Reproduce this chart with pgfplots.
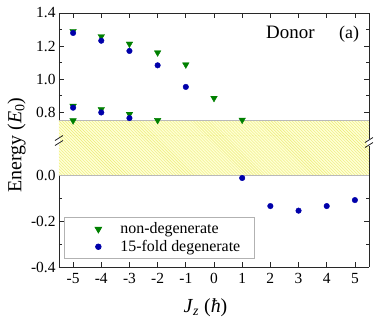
\documentclass[border=0pt]{standalone}
\usepackage{fontspec}
\setmainfont{Liberation Serif}
\usepackage{pgfplots}
\pgfplotsset{compat=1.18}
\usetikzlibrary{patterns}
\definecolor{ndgreen}{RGB}{0,128,0}
\definecolor{fdblue}{RGB}{0,0,170}
\definecolor{bandbg}{RGB}{255,255,212}
\definecolor{bandline}{RGB}{236,236,120}
\definecolor{axgray}{RGB}{40,40,40}
\pgfplotsset{
  common/.style={
    scale only axis,
    width=310bp,
    xmin=-5.5, xmax=5.5,
    xtick={-5,-4,-3,-2,-1,0,1,2,3,4,5},
    tick align=inside,
    major tick length=5bp,
    minor tick length=3bp,
    tick style={line width=0.8bp, axgray},
    tick label style={font=\fontsize{15.5}{18}\selectfont},
    /pgf/number format/assume math mode=true,
    yticklabel style={/pgf/number format/.cd, fixed, fixed zerofill, precision=1},
    clip=false,
  },
  wideleg/.style={legend image code/.code={%
      \path[draw=none, fill=none] (-22bp,-6.5bp) rectangle (20bp,6.5bp);
      \draw[##1] plot coordinates {(0bp,0bp)};}},
}
\begin{document}
\begin{tikzpicture}[x=1bp,y=1bp]
% upper part
\begin{axis}[common,
  at={(0,131bp)}, anchor=south west,
  height=123bp,
  ymin=0.6545, ymax=1.4,
  ytick={0.8,1.0,1.2,1.4},
  minor ytick={0.7,0.9,1.1,1.3},
  axis x line*=top,
  xticklabels={},
  axis line style={line width=0.8bp, axgray, -},
]
\fill[bandbg] (axis cs:-5.5,0.6545) rectangle (axis cs:5.5,0.75);
\fill[pattern=north west lines, pattern color=bandline] (axis cs:-5.5,0.6545) rectangle (axis cs:5.5,0.75);
\draw[gray!55, line width=1bp] (axis cs:-5.5,0.75) -- (axis cs:5.5,0.75);
\addplot[only marks, mark=triangle*, mark size=3.8pt, color=ndgreen, mark options={rotate=180}]
  coordinates {(-5,1.290) (-5,0.836) (-5,0.748) (-4,1.258) (-4,0.816) (-3,1.213) (-3,0.787)
               (-2,1.160) (-2,0.750) (-1,1.087) (0,0.884) (1,0.752)};
\addplot[only marks, mark=*, mark size=2.8pt, color=fdblue]
  coordinates {(-5,1.279) (-5,0.826) (-4,1.232) (-4,0.797) (-3,1.170) (-3,0.763)
               (-2,1.083) (-1,0.952)};
\end{axis}
% lower part
\begin{axis}[common,
  at={(0,0)}, anchor=south west,
  height=131bp,
  ymin=-0.4, ymax=0.1696,
  ytick={-0.4,-0.2,0.0},
  minor ytick={-0.3,-0.1,0.1},
  axis x line*=bottom,
  xticklabel style={yshift=-3bp},
  axis line style={line width=0.8bp, axgray, -},
  legend style={at={(0.016,0.061)}, anchor=south west, draw=gray!60, line width=0.8bp,
    font=\fontsize{16}{19}\selectfont, inner xsep=12bp, inner ysep=3.5bp, row sep=1bp},
  legend cell align=left,
]
\fill[bandbg] (axis cs:-5.5,0) rectangle (axis cs:5.5,0.1696);
\fill[pattern=north west lines, pattern color=bandline] (axis cs:-5.5,0) rectangle (axis cs:5.5,0.1696);
\draw[gray!55, line width=1bp] (axis cs:-5.5,0) -- (axis cs:5.5,0);
\addlegendimage{only marks, mark=triangle*, mark size=3.8pt, color=ndgreen, mark options={rotate=180}, wideleg}
\addplot[only marks, mark=*, mark size=2.8pt, color=fdblue, wideleg]
  coordinates {(1,-0.013) (2,-0.135) (3,-0.155) (4,-0.135) (5,-0.109)};
\legend{non-degenerate, 15-fold degenerate}
\end{axis}
% axis break marks
\fill[white] (-1.5,123) rectangle (1.5,130);
\draw[axgray, line width=0.8bp] (-4,121.5) -- (4,126.5);
\draw[axgray, line width=0.8bp] (-4,126.5) -- (4,131.5);
\fill[white] (308.5,121) rectangle (311.5,128);
\draw[axgray, line width=0.8bp] (306,119.5) -- (314,124.5);
\draw[axgray, line width=0.8bp] (306,124.5) -- (314,129.5);
% texts
\node[anchor=base west, inner sep=0, font=\fontsize{19}{22}\selectfont] at (207,229) {Donor};
\node[anchor=base west, inner sep=0, font=\fontsize{18}{22}\selectfont] at (280,229) {(a)};
\node[rotate=90, inner sep=0, font=\fontsize{20}{24}\selectfont] at (-42.5,122) {Energy (\textit{E}\textsubscript{0})};
\node[anchor=base, inner sep=0, font=\fontsize{20}{24}\selectfont] at (146.5,-45) {\textit{J}\textsubscript{\textit{z}} (\textit{ħ})};
\pgfresetboundingbox
\useasboundingbox (-59,-55) rectangle (315,267);
\end{tikzpicture}
\end{document}
